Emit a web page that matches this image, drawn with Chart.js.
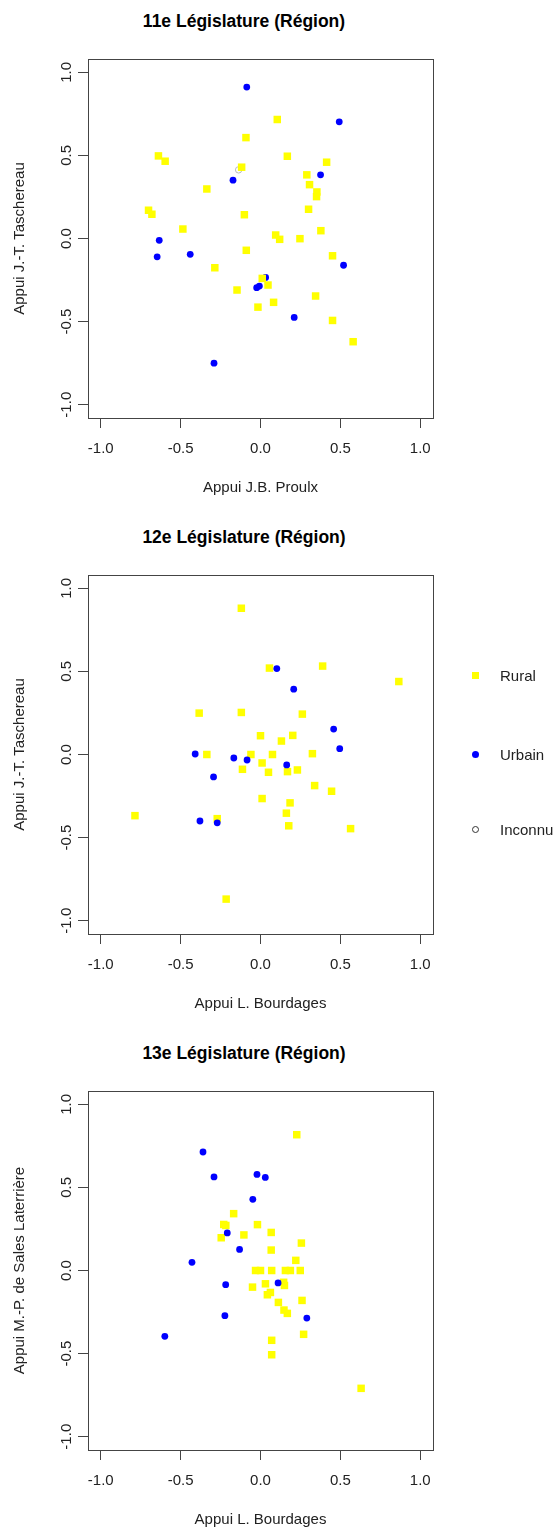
<!DOCTYPE html>
<html lang="fr">
<head>
<meta charset="utf-8">
<title>Appuis par législature</title>
<script src="https://cdn.jsdelivr.net/npm/chart.js@4/dist/chart.umd.min.js"></script>
<style>
  body { margin: 0; background: #fff; }
  #page { position: relative; width: 559px; height: 1532px; overflow: hidden;
          font-family: "Liberation Sans", Arial, Helvetica, sans-serif; color: #000; }
  .panel { position: absolute; left: 0; width: 559px; height: 516px; }
  .panel canvas { position: absolute; left: 0; top: 0; }
  .titre { position: absolute; left: 0; top: 10px; width: 488px; text-align: center;
           font-weight: bold; font-size: 17.5px; line-height: 22px; }
  .leg { position: absolute; left: 472px; font-size: 15px; line-height: 18px; height: 18px; }
  .leg span.m { position: absolute; left: 0; top: 5px; width: 7px; height: 7px; box-sizing: border-box; }
  .leg span.t { position: absolute; left: 28px; top: 0; white-space: nowrap; color: #222; }
  .carre { background: #ffff00; }
  .rond { background: #0000ff; border-radius: 50%; }
  .vide { border: 1px solid #333; border-radius: 50%; }
</style>
</head>
<body>
<div id="page">
  <div class="panel" style="top:0px">
    <div class="titre">11e Législature (Région)</div>
    <canvas id="c11" width="559" height="516"></canvas>
  </div>
  <div class="panel" style="top:516px">
    <div class="titre">12e Législature (Région)</div>
    <canvas id="c12" width="559" height="516"></canvas>
    <div class="leg" style="top:151px"><span class="m carre"></span><span class="t">Rural</span></div>
    <div class="leg" style="top:230px"><span class="m rond"></span><span class="t">Urbain</span></div>
    <div class="leg" style="top:305px"><span class="m vide"></span><span class="t">Inconnu</span></div>
  </div>
  <div class="panel" style="top:1032px">
    <div class="titre">13e Législature (Région)</div>
    <canvas id="c13" width="559" height="516"></canvas>
  </div>
</div>

<script>
// ticks communs aux deux axes
const tickValues = [-1, -0.5, 0, 0.5, 1];

// 11e législature : [appui Proulx, appui Taschereau]
const rural11 = [
  [0.105, 0.716], [-0.091, 0.607], [-0.639, 0.497], [-0.597, 0.465], [0.168, 0.495],
  [-0.118, 0.429], [0.414, 0.459], [0.29, 0.383], [0.307, 0.324], [0.353, 0.28],
  [0.351, 0.252], [-0.336, 0.298], [0.301, 0.176], [-0.701, 0.17], [-0.68, 0.146],
  [-0.101, 0.143], [-0.486, 0.057], [0.378, 0.047], [0.095, 0.021], [0.12, -0.005],
  [0.247, -0.001], [-0.089, -0.071], [0.451, -0.104], [-0.286, -0.176], [0.011, -0.24],
  [0.047, -0.28], [-0.147, -0.31], [0.345, -0.346], [0.082, -0.384], [-0.016, -0.413],
  [0.451, -0.493], [0.58, -0.621]
];
const urbain11 = [
  [-0.086, 0.911], [0.493, 0.702], [0.376, 0.383], [-0.172, 0.351], [-0.634, -0.011],
  [-0.647, -0.11], [-0.44, -0.095], [0.52, -0.161], [0.032, -0.234], [-0.024, -0.296],
  [-0.007, -0.286], [0.211, -0.475], [-0.291, -0.75]
];
const inconnu11 = [[-0.137, 0.413]];

// 12e législature : [appui Bourdages, appui Taschereau]
const rural12 = [
  [-0.12, 0.88], [0.056, 0.52], [0.389, 0.532], [0.866, 0.439], [-0.384, 0.249],
  [-0.12, 0.253], [0.262, 0.243], [0, 0.113], [0.202, 0.115], [0.131, 0.081],
  [-0.336, 0], [-0.06, 0], [0.075, 0], [0.325, 0.005], [0.01, -0.051],
  [-0.113, -0.089], [0.05, -0.107], [0.169, -0.103], [0.231, -0.093], [0.339, -0.187],
  [0.445, -0.221], [0.01, -0.265], [0.185, -0.291], [0.162, -0.353], [0.177, -0.429],
  [0.564, -0.446], [-0.786, -0.368], [-0.271, -0.386], [-0.215, -0.87]
];
const urbain12 = [
  [0.102, 0.517], [0.208, 0.393], [0.458, 0.153], [0.496, 0.035], [-0.409, 0.003],
  [-0.167, -0.021], [-0.084, -0.033], [0.164, -0.063], [-0.294, -0.135], [-0.379, -0.4],
  [-0.271, -0.411]
];
const inconnu12 = [];

// 13e législature : [appui Bourdages, appui de Sales Laterrière]
const rural13 = [
  [0.227, 0.817], [-0.168, 0.342], [-0.23, 0.277], [-0.217, 0.271], [-0.019, 0.276],
  [-0.246, 0.197], [-0.104, 0.214], [0.067, 0.229], [0.256, 0.165], [0.067, 0.123],
  [0.221, 0.061], [-0.031, 0], [0, 0], [0.07, 0], [0.156, 0], [0.187, 0], [0.249, 0],
  [0.031, -0.08], [0.145, -0.071], [0.15, -0.09], [-0.05, -0.1], [0.043, -0.146],
  [0.062, -0.132], [0.112, -0.192], [0.147, -0.238], [0.168, -0.258], [0.26, -0.18],
  [0.27, -0.384], [0.07, -0.42], [0.07, -0.507], [0.63, -0.709]
];
const urbain13 = [
  [-0.36, 0.713], [-0.291, 0.563], [-0.022, 0.578], [0.03, 0.56], [-0.048, 0.428],
  [-0.208, 0.226], [-0.131, 0.127], [-0.429, 0.049], [-0.218, -0.085], [0.11, -0.075],
  [-0.223, -0.272], [0.29, -0.286], [-0.599, -0.396]
];
const inconnu13 = [];

const police = { family: "'Liberation Sans', Arial, Helvetica, sans-serif", size: 15 };
const gris = '#444';

// cadre complet autour de la zone de tracé (style R)
const cadre = {
  id: 'cadre',
  afterDraw(chart) {
    const ctx = chart.ctx;
    const a = chart.chartArea;
    ctx.save();
    ctx.strokeStyle = gris;
    ctx.lineWidth = 1;
    ctx.strokeRect(a.left + 0.5, a.top + 0.5, a.right - a.left, a.bottom - a.top);
    ctx.restore();
  }
};

function toPoints(list) {
  return list.map(p => ({ x: p[0], y: p[1] }));
}

function makeChart(id, rural, urbain, inconnu, xTitle, yTitle, ruralOnTop) {
  const ctx = document.getElementById(id).getContext('2d');
  return new Chart(ctx, {
    type: 'scatter',
    data: {
      datasets: [
        {
          label: 'Rural',
          data: toPoints(rural),
          pointStyle: 'rect',
          pointRadius: 5.3,
          backgroundColor: '#ffff00',
          borderWidth: 0,
          order: ruralOnTop ? 0 : 1
        },
        {
          label: 'Urbain',
          data: toPoints(urbain),
          pointStyle: 'circle',
          pointRadius: 3.4,
          backgroundColor: '#0000ff',
          borderWidth: 0,
          order: ruralOnTop ? 1 : 0
        },
        {
          label: 'Inconnu',
          data: toPoints(inconnu),
          pointStyle: 'circle',
          pointRadius: 3.2,
          backgroundColor: 'rgba(0,0,0,0)',
          borderColor: '#bbbbbb',
          borderWidth: 1,
          order: 2
        }
      ]
    },
    options: {
      responsive: false,
      animation: false,
      events: [],
      layout: { padding: { left: 0, right: 126, top: 59, bottom: 0 } },
      plugins: { legend: { display: false }, tooltip: { enabled: false } },
      scales: {
        x: {
          type: 'linear',
          min: -1.08,
          max: 1.08,
          afterBuildTicks: s => { s.ticks = tickValues.map(v => ({ value: v })); },
          afterFit: s => { s.height = 98; },
          ticks: { callback: v => v.toFixed(1), font: police, color: '#222', padding: 12, autoSkip: false, maxRotation: 0 },
          grid: { drawOnChartArea: false, tickLength: 10, color: gris },
          border: { display: false },
          title: { display: true, text: xTitle, font: police, color: '#222', padding: { top: 0, bottom: 19 } }
        },
        y: {
          type: 'linear',
          min: -1.08,
          max: 1.08,
          afterBuildTicks: s => { s.ticks = tickValues.map(v => ({ value: v })); },
          afterFit: s => { s.width = 88; },
          ticks: { callback: v => v.toFixed(1), font: police, color: '#222', padding: -2, autoSkip: false,
                   minRotation: 90, maxRotation: 90, crossAlign: 'center' },
          grid: { drawOnChartArea: false, tickLength: 10, color: gris },
          border: { display: false },
          title: { display: true, text: yTitle, font: police, color: '#222', padding: { top: 11, bottom: 0 } }
        }
      }
    },
    plugins: [cadre]
  });
}

makeChart('c11', rural11, urbain11, inconnu11, 'Appui J.B. Proulx', 'Appui J.-T. Taschereau', true);
makeChart('c12', rural12, urbain12, inconnu12, 'Appui L. Bourdages', 'Appui J.-T. Taschereau', false);
makeChart('c13', rural13, urbain13, inconnu13, 'Appui L. Bourdages', 'Appui M.-P. de Sales Laterrière', false);
</script>
</body>
</html>
